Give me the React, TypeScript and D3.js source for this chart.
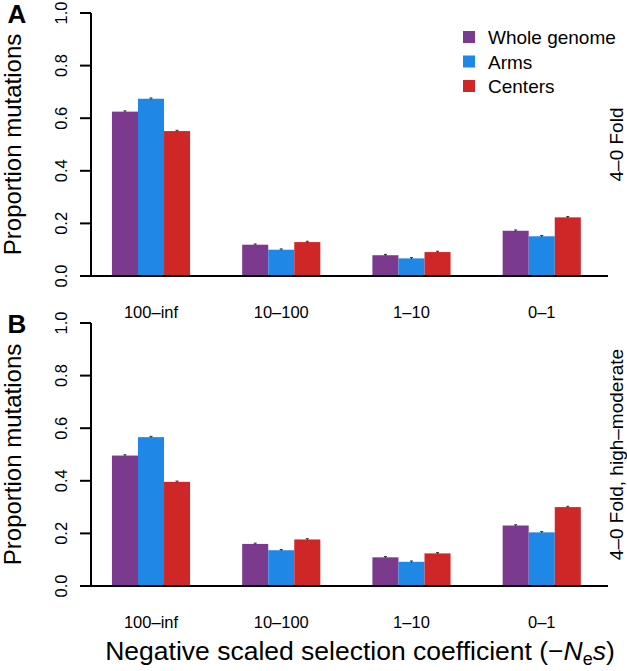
import * as d3 from 'd3';

// proportion of mutations per bin of -Ns
const categories = ['100–inf', '10–100', '1–10', '0–1'];
const seriesNames = ['Whole genome', 'Arms', 'Centers'];
const seriesColors = ['#7b3a8d', '#1f87e6', '#cf2628'];

// panel A: 4-0 fold
const wholeA = [0.625, 0.119, 0.079, 0.172];
const armsA = [0.674, 0.1, 0.067, 0.151];
const centersA = [0.551, 0.129, 0.091, 0.223];
// panel B: 4-0 fold, high-moderate
const wholeB = [0.496, 0.16, 0.109, 0.23];
const armsB = [0.566, 0.136, 0.092, 0.204];
const centersB = [0.396, 0.177, 0.124, 0.3];
// tiny standard errors
const errA = [0.003, 0.003, 0.003];
const errB = [0.003, 0.003, 0.003];

const yTicks = [0, 0.2, 0.4, 0.6, 0.8, 1.0];

const W = 627;
const H = 671;
const font = "'Liberation Sans', Arial, Helvetica, sans-serif";

const x = d3.scaleBand<string>().domain(categories).range([80, 608])
  .paddingInner(0.4).paddingOuter(0.227).align(0.54);
const xs = d3.scaleBand<string>().domain(seriesNames).range([0, x.bandwidth()]);

type PanelProps = {
  top: number;
  letter: string;
  side: string;
  values: number[][];
  errs: number[];
  legend?: boolean;
};

const Panel = ({ top, letter, side, values, errs, legend }: PanelProps) => {
  const y = d3.scaleLinear().domain([0, 1]).range([top + 263, top]);
  const axisX = 91;
  const midY = (y(0) + y(1)) / 2;
  return (
    <g>
      {/* bars */}
      {categories.map((c, i) => (
        <g key={c} transform={`translate(${x(c)},0)`}>
          {seriesNames.map((s, j) => {
            const v = values[j][i];
            const bx = xs(s)!;
            const cx = bx + xs.bandwidth() / 2;
            return (
              <g key={s}>
                <rect x={bx} y={y(v)} width={xs.bandwidth()} height={y(0) - y(v)}
                  fill={seriesColors[j]} />
                <line x1={cx} x2={cx} y1={y(v - errs[j])} y2={y(v + errs[j])}
                  stroke="#333" strokeWidth={1} />
                <line x1={cx - 1.5} x2={cx + 1.5} y1={y(v + errs[j])} y2={y(v + errs[j])}
                  stroke="#333" strokeWidth={1} />
              </g>
            );
          })}
          <text x={x.bandwidth() / 2} y={y(0) + 42} textAnchor="middle" fontSize={16.5}>{c}</text>
        </g>
      ))}
      {/* baseline */}
      <line x1={80} x2={608} y1={y(0)} y2={y(0)} stroke="#000" strokeWidth={2} />
      {/* y axis */}
      <line x1={axisX} x2={axisX} y1={y(0)} y2={y(1)} stroke="#000" strokeWidth={2} />
      {yTicks.map(t => (
        <g key={t}>
          <line x1={axisX - 11} x2={axisX} y1={y(t)} y2={y(t)} stroke="#000" strokeWidth={2} />
          <text transform={`translate(67,${y(t)}) rotate(-90)`} textAnchor="middle" fontSize={16.5}>
            {d3.format('.1f')(t)}
          </text>
        </g>
      ))}
      <text transform={`translate(21,${midY}) rotate(-90)`} textAnchor="middle" fontSize={24}>
        Proportion mutations
      </text>
      <text x={17} y={y(1) + 10} textAnchor="middle" fontSize={26} fontWeight="bold">{letter}</text>
      <text transform={`translate(623,${midY}) rotate(-90)`} textAnchor="middle" fontSize={19}>{side}</text>
      {legend && seriesNames.map((s, j) => (
        <g key={s} transform={`translate(463,${37 + j * 24.5})`}>
          <rect x={0} y={-6} width={12} height={12} fill={seriesColors[j]} />
          <text x={25} y={7} fontSize={19}>{s}</text>
        </g>
      ))}
    </g>
  );
};

export default function App() {
  return (
    <div style={{ position: 'absolute', left: 0, top: 0 }}>
      <svg width={W} height={H} fontFamily={font} style={{ display: 'block', background: '#fff' }}>
        <Panel top={13} letter="A" side="4–0 Fold" values={[wholeA, armsA, centersA]} errs={errA} legend />
        <Panel top={323} letter="B" side="4–0 Fold, high–moderate" values={[wholeB, armsB, centersB]} errs={errB} />
        <text x={360} y={660} textAnchor="middle" fontSize={26.5}>
          Negative scaled selection coefficient (−
          <tspan fontStyle="italic">N</tspan>
          <tspan dy={5} fontSize={18}>e</tspan>
          <tspan dy={-5} fontStyle="italic">s</tspan>)
        </text>
      </svg>
    </div>
  );
}
